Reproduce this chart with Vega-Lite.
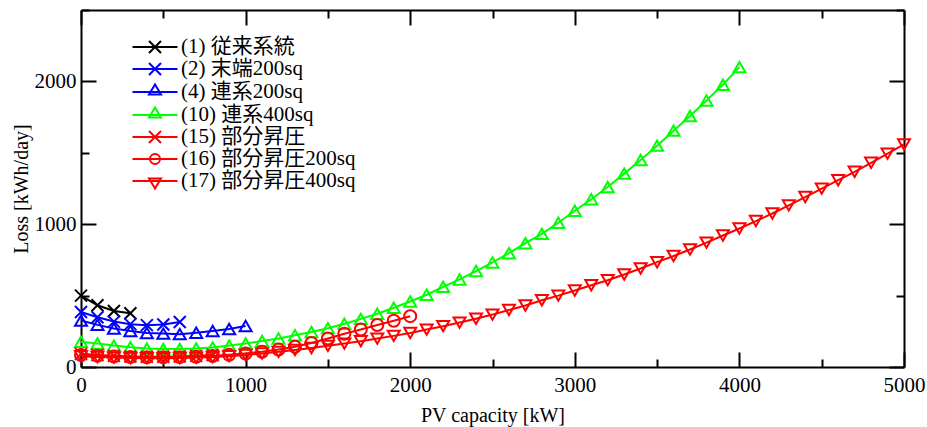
{
  "$schema": "https://vega.github.io/schema/vega-lite/v6.json",
  "width": 823,
  "height": 357,
  "autosize": {"type": "none"},
  "padding": {"left": 81, "top": 10, "right": 23, "bottom": 60},
  "background": "white",
  "config": {
    "view": {"stroke": null},
    "font": "Liberation Serif",
    "axis": {
      "domainColor": "black", "domainWidth": 2, "tickColor": "black", "tickWidth": 2,
      "labelFont": "Liberation Serif", "labelFontSize": 21, "labelColor": "black",
      "titleFont": "Liberation Serif", "titleFontSize": 20, "titleFontWeight": "normal", "titleColor": "black",
      "grid": false, "labelFlush": false, "labelOverlap": false
    },
    "legend": {
      "orient": "none", "legendX": 63, "legendY": 26, "padding": 0,
      "labelFont": "Liberation Serif, Noto Sans CJK JP", "labelFontSize": 21, "labelColor": "black", "labelLimit": 400,
      "symbolSize": 400, "symbolStrokeWidth": 2, "labelOffset": 15, "rowPadding": 1, "symbolOpacity": 1
    }
  },
  "data": {"values": [
    {"series": "(1) 従来系統", "x": 0, "y": 500}, {"series": "(1) 従来系統", "x": 100, "y": 432}, {"series": "(1) 従来系統", "x": 200, "y": 392}, {"series": "(1) 従来系統", "x": 300, "y": 376},
    {"series": "(2) 末端200sq", "x": 0, "y": 385}, {"series": "(2) 末端200sq", "x": 100, "y": 348}, {"series": "(2) 末端200sq", "x": 200, "y": 318}, {"series": "(2) 末端200sq", "x": 300, "y": 300}, {"series": "(2) 末端200sq", "x": 400, "y": 293}, {"series": "(2) 末端200sq", "x": 500, "y": 298}, {"series": "(2) 末端200sq", "x": 600, "y": 315},
    {"series": "(4) 連系200sq", "x": 0, "y": 325}, {"series": "(4) 連系200sq", "x": 100, "y": 295}, {"series": "(4) 連系200sq", "x": 200, "y": 270}, {"series": "(4) 連系200sq", "x": 300, "y": 252}, {"series": "(4) 連系200sq", "x": 400, "y": 238}, {"series": "(4) 連系200sq", "x": 500, "y": 234}, {"series": "(4) 連系200sq", "x": 600, "y": 230}, {"series": "(4) 連系200sq", "x": 700, "y": 240}, {"series": "(4) 連系200sq", "x": 800, "y": 252}, {"series": "(4) 連系200sq", "x": 900, "y": 266}, {"series": "(4) 連系200sq", "x": 1000, "y": 287},
    {"series": "(10) 連系400sq", "x": 0, "y": 177}, {"series": "(10) 連系400sq", "x": 100, "y": 165}, {"series": "(10) 連系400sq", "x": 200, "y": 150}, {"series": "(10) 連系400sq", "x": 300, "y": 138}, {"series": "(10) 連系400sq", "x": 400, "y": 130}, {"series": "(10) 連系400sq", "x": 500, "y": 126}, {"series": "(10) 連系400sq", "x": 600, "y": 126}, {"series": "(10) 連系400sq", "x": 700, "y": 130}, {"series": "(10) 連系400sq", "x": 800, "y": 137}, {"series": "(10) 連系400sq", "x": 900, "y": 150},
    {"series": "(10) 連系400sq", "x": 1000, "y": 165}, {"series": "(10) 連系400sq", "x": 1100, "y": 182}, {"series": "(10) 連系400sq", "x": 1200, "y": 200}, {"series": "(10) 連系400sq", "x": 1300, "y": 222}, {"series": "(10) 連系400sq", "x": 1400, "y": 245}, {"series": "(10) 連系400sq", "x": 1500, "y": 272}, {"series": "(10) 連系400sq", "x": 1600, "y": 303}, {"series": "(10) 連系400sq", "x": 1700, "y": 337}, {"series": "(10) 連系400sq", "x": 1800, "y": 373}, {"series": "(10) 連系400sq", "x": 1900, "y": 415},
    {"series": "(10) 連系400sq", "x": 2000, "y": 459}, {"series": "(10) 連系400sq", "x": 2100, "y": 506}, {"series": "(10) 連系400sq", "x": 2200, "y": 561}, {"series": "(10) 連系400sq", "x": 2300, "y": 613}, {"series": "(10) 連系400sq", "x": 2400, "y": 672}, {"series": "(10) 連系400sq", "x": 2500, "y": 732}, {"series": "(10) 連系400sq", "x": 2600, "y": 797}, {"series": "(10) 連系400sq", "x": 2700, "y": 867}, {"series": "(10) 連系400sq", "x": 2800, "y": 932}, {"series": "(10) 連系400sq", "x": 2900, "y": 1010},
    {"series": "(10) 連系400sq", "x": 3000, "y": 1094}, {"series": "(10) 連系400sq", "x": 3100, "y": 1175}, {"series": "(10) 連系400sq", "x": 3200, "y": 1261}, {"series": "(10) 連系400sq", "x": 3300, "y": 1354}, {"series": "(10) 連系400sq", "x": 3400, "y": 1450}, {"series": "(10) 連系400sq", "x": 3500, "y": 1550}, {"series": "(10) 連系400sq", "x": 3600, "y": 1655}, {"series": "(10) 連系400sq", "x": 3700, "y": 1758}, {"series": "(10) 連系400sq", "x": 3800, "y": 1866}, {"series": "(10) 連系400sq", "x": 3900, "y": 1977}, {"series": "(10) 連系400sq", "x": 4000, "y": 2100},
    {"series": "(15) 部分昇圧", "x": 0, "y": 92}, {"series": "(15) 部分昇圧", "x": 100, "y": 84}, {"series": "(15) 部分昇圧", "x": 200, "y": 78}, {"series": "(15) 部分昇圧", "x": 300, "y": 74}, {"series": "(15) 部分昇圧", "x": 400, "y": 72}, {"series": "(15) 部分昇圧", "x": 500, "y": 72}, {"series": "(15) 部分昇圧", "x": 600, "y": 74}, {"series": "(15) 部分昇圧", "x": 700, "y": 78}, {"series": "(15) 部分昇圧", "x": 800, "y": 84},
    {"series": "(16) 部分昇圧200sq", "x": 0, "y": 84}, {"series": "(16) 部分昇圧200sq", "x": 100, "y": 78}, {"series": "(16) 部分昇圧200sq", "x": 200, "y": 73}, {"series": "(16) 部分昇圧200sq", "x": 300, "y": 70}, {"series": "(16) 部分昇圧200sq", "x": 400, "y": 68}, {"series": "(16) 部分昇圧200sq", "x": 500, "y": 68}, {"series": "(16) 部分昇圧200sq", "x": 600, "y": 69}, {"series": "(16) 部分昇圧200sq", "x": 700, "y": 72}, {"series": "(16) 部分昇圧200sq", "x": 800, "y": 77}, {"series": "(16) 部分昇圧200sq", "x": 900, "y": 85},
    {"series": "(16) 部分昇圧200sq", "x": 1000, "y": 95}, {"series": "(16) 部分昇圧200sq", "x": 1100, "y": 107}, {"series": "(16) 部分昇圧200sq", "x": 1200, "y": 122}, {"series": "(16) 部分昇圧200sq", "x": 1300, "y": 142}, {"series": "(16) 部分昇圧200sq", "x": 1400, "y": 168}, {"series": "(16) 部分昇圧200sq", "x": 1500, "y": 200}, {"series": "(16) 部分昇圧200sq", "x": 1600, "y": 233}, {"series": "(16) 部分昇圧200sq", "x": 1700, "y": 263}, {"series": "(16) 部分昇圧200sq", "x": 1800, "y": 294}, {"series": "(16) 部分昇圧200sq", "x": 1900, "y": 324}, {"series": "(16) 部分昇圧200sq", "x": 2000, "y": 356},
    {"series": "(17) 部分昇圧400sq", "x": 0, "y": 75}, {"series": "(17) 部分昇圧400sq", "x": 100, "y": 70}, {"series": "(17) 部分昇圧400sq", "x": 200, "y": 66}, {"series": "(17) 部分昇圧400sq", "x": 300, "y": 63}, {"series": "(17) 部分昇圧400sq", "x": 400, "y": 62}, {"series": "(17) 部分昇圧400sq", "x": 500, "y": 62}, {"series": "(17) 部分昇圧400sq", "x": 600, "y": 63}, {"series": "(17) 部分昇圧400sq", "x": 700, "y": 66}, {"series": "(17) 部分昇圧400sq", "x": 800, "y": 70}, {"series": "(17) 部分昇圧400sq", "x": 900, "y": 76},
    {"series": "(17) 部分昇圧400sq", "x": 1000, "y": 84}, {"series": "(17) 部分昇圧400sq", "x": 1100, "y": 95}, {"series": "(17) 部分昇圧400sq", "x": 1200, "y": 106}, {"series": "(17) 部分昇圧400sq", "x": 1300, "y": 119}, {"series": "(17) 部分昇圧400sq", "x": 1400, "y": 133}, {"series": "(17) 部分昇圧400sq", "x": 1500, "y": 148}, {"series": "(17) 部分昇圧400sq", "x": 1600, "y": 164}, {"series": "(17) 部分昇圧400sq", "x": 1700, "y": 181}, {"series": "(17) 部分昇圧400sq", "x": 1800, "y": 199}, {"series": "(17) 部分昇圧400sq", "x": 1900, "y": 218},
    {"series": "(17) 部分昇圧400sq", "x": 2000, "y": 238}, {"series": "(17) 部分昇圧400sq", "x": 2100, "y": 262}, {"series": "(17) 部分昇圧400sq", "x": 2200, "y": 286}, {"series": "(17) 部分昇圧400sq", "x": 2300, "y": 311}, {"series": "(17) 部分昇圧400sq", "x": 2400, "y": 338}, {"series": "(17) 部分昇圧400sq", "x": 2500, "y": 367}, {"series": "(17) 部分昇圧400sq", "x": 2600, "y": 399}, {"series": "(17) 部分昇圧400sq", "x": 2700, "y": 431}, {"series": "(17) 部分昇圧400sq", "x": 2800, "y": 467}, {"series": "(17) 部分昇圧400sq", "x": 2900, "y": 500},
    {"series": "(17) 部分昇圧400sq", "x": 3000, "y": 536}, {"series": "(17) 部分昇圧400sq", "x": 3100, "y": 572}, {"series": "(17) 部分昇圧400sq", "x": 3200, "y": 608}, {"series": "(17) 部分昇圧400sq", "x": 3300, "y": 648}, {"series": "(17) 部分昇圧400sq", "x": 3400, "y": 690}, {"series": "(17) 部分昇圧400sq", "x": 3500, "y": 734}, {"series": "(17) 部分昇圧400sq", "x": 3600, "y": 777}, {"series": "(17) 部分昇圧400sq", "x": 3700, "y": 823}, {"series": "(17) 部分昇圧400sq", "x": 3800, "y": 871}, {"series": "(17) 部分昇圧400sq", "x": 3900, "y": 921},
    {"series": "(17) 部分昇圧400sq", "x": 4000, "y": 970}, {"series": "(17) 部分昇圧400sq", "x": 4100, "y": 1022}, {"series": "(17) 部分昇圧400sq", "x": 4200, "y": 1075}, {"series": "(17) 部分昇圧400sq", "x": 4300, "y": 1132}, {"series": "(17) 部分昇圧400sq", "x": 4400, "y": 1190}, {"series": "(17) 部分昇圧400sq", "x": 4500, "y": 1249}, {"series": "(17) 部分昇圧400sq", "x": 4600, "y": 1308}, {"series": "(17) 部分昇圧400sq", "x": 4700, "y": 1367}, {"series": "(17) 部分昇圧400sq", "x": 4800, "y": 1430}, {"series": "(17) 部分昇圧400sq", "x": 4900, "y": 1494}, {"series": "(17) 部分昇圧400sq", "x": 5000, "y": 1559}
  ]},
  "layer": [
    {
      "mark": {"type": "line", "strokeWidth": 2},
      "encoding": {
        "x": {"field": "x", "type": "quantitative", "scale": {"domain": [0, 5000], "nice": false},
          "axis": {"orient": "bottom", "values": [0, 500, 1000, 1500, 2000, 2500, 3000, 3500, 4000, 4500, 5000], "format": "d",
            "labelExpr": "datum.value % 1000 === 0 ? datum.label : ''",
            "tickSize": {"condition": {"test": "datum.value % 1000 === 0", "value": -15}, "value": -8},
            "labelPadding": 22, "title": "PV capacity [kW]", "titlePadding": 3}},
        "y": {"field": "y", "type": "quantitative", "scale": {"domain": [0, 2500], "nice": false},
          "axis": {"orient": "left", "values": [0, 500, 1000, 1500, 2000, 2500], "format": "d",
            "labelExpr": "datum.value % 1000 === 0 ? datum.label : ''",
            "tickSize": {"condition": {"test": "datum.value % 1000 === 0", "value": -15}, "value": -8},
            "labelPadding": 20, "title": "Loss [kWh/day]", "titlePadding": 3}},
        "color": {
          "field": "series", "type": "nominal", "legend": null,
          "scale": {
            "domain": ["(1) 従来系統", "(2) 末端200sq", "(4) 連系200sq", "(10) 連系400sq", "(15) 部分昇圧", "(16) 部分昇圧200sq", "(17) 部分昇圧400sq"],
            "range": ["#000000", "#0000ff", "#0000ff", "#00ff00", "#ff0000", "#ff0000", "#ff0000"]
          }
        }
      }
    },
    {
      "mark": {"type": "point", "filled": false, "strokeWidth": 2, "size": 144, "opacity": 1},
      "encoding": {
        "x": {"field": "x", "type": "quantitative",
          "axis": {"orient": "top", "values": [0, 500, 1000, 1500, 2000, 2500, 3000, 3500, 4000, 4500, 5000], "labels": false, "title": null,
            "tickSize": {"condition": {"test": "datum.value % 1000 === 0", "value": -15}, "value": -8}}},
        "y": {"field": "y", "type": "quantitative",
          "axis": {"orient": "right", "values": [0, 500, 1000, 1500, 2000, 2500], "labels": false, "title": null,
            "tickSize": {"condition": {"test": "datum.value % 1000 === 0", "value": -15}, "value": -8}}},
        "color": {"field": "series", "type": "nominal", "legend": null},
        "shape": {"field": "series", "type": "nominal", "legend": null,
          "scale": {
            "domain": ["(1) 従来系統", "(2) 末端200sq", "(4) 連系200sq", "(10) 連系400sq", "(15) 部分昇圧", "(16) 部分昇圧200sq", "(17) 部分昇圧400sq"],
            "range": ["M-1,-1L1,1M-1,1L1,-1", "M-1,-1L1,1M-1,1L1,-1", "M0,-0.866L-1,0.866L1,0.866Z", "M0,-0.866L-1,0.866L1,0.866Z", "M-1,-1L1,1M-1,1L1,-1", "circle", "M0,0.866L-1,-0.866L1,-0.866Z"]
          }}
      }
    },
    {
      "transform": [{"filter": "false"}],
      "mark": {"type": "point", "filled": false, "strokeWidth": 2, "opacity": 1},
      "encoding": {
        "stroke": {"field": "series", "type": "nominal", "title": null,
          "scale": {
            "domain": ["(1) 従来系統", "(2) 末端200sq", "(4) 連系200sq", "(10) 連系400sq", "(15) 部分昇圧", "(16) 部分昇圧200sq", "(17) 部分昇圧400sq"],
            "range": ["#000000", "#0000ff", "#0000ff", "#00ff00", "#ff0000", "#ff0000", "#ff0000"]
          }},
        "shape": {"field": "series", "type": "nominal", "title": null,
          "scale": {
            "domain": ["(1) 従来系統", "(2) 末端200sq", "(4) 連系200sq", "(10) 連系400sq", "(15) 部分昇圧", "(16) 部分昇圧200sq", "(17) 部分昇圧400sq"],
            "range": [
              "M-2.25,0L2.25,0M-0.6,-0.6L0.6,0.6M-0.6,0.6L0.6,-0.6",
              "M-2.25,0L2.25,0M-0.6,-0.6L0.6,0.6M-0.6,0.6L0.6,-0.6",
              "M-2.25,0L2.25,0M0,-0.75L-0.6,0.25L0.6,0.25Z",
              "M-2.25,0L2.25,0M0,-0.75L-0.6,0.25L0.6,0.25Z",
              "M-2.25,0L2.25,0M-0.6,-0.6L0.6,0.6M-0.6,0.6L0.6,-0.6",
              "M-2.25,0L2.25,0M0.5,0A0.5,0.5,0,1,1,-0.5,0A0.5,0.5,0,1,1,0.5,0",
              "M-2.25,0L2.25,0M0,0.75L-0.6,-0.25L0.6,-0.25Z"
            ]
          }}
      }
    }
  ],
  "resolve": {"scale": {"shape": "independent", "stroke": "independent"}, "axis": {"x": "independent", "y": "independent"}}
}
